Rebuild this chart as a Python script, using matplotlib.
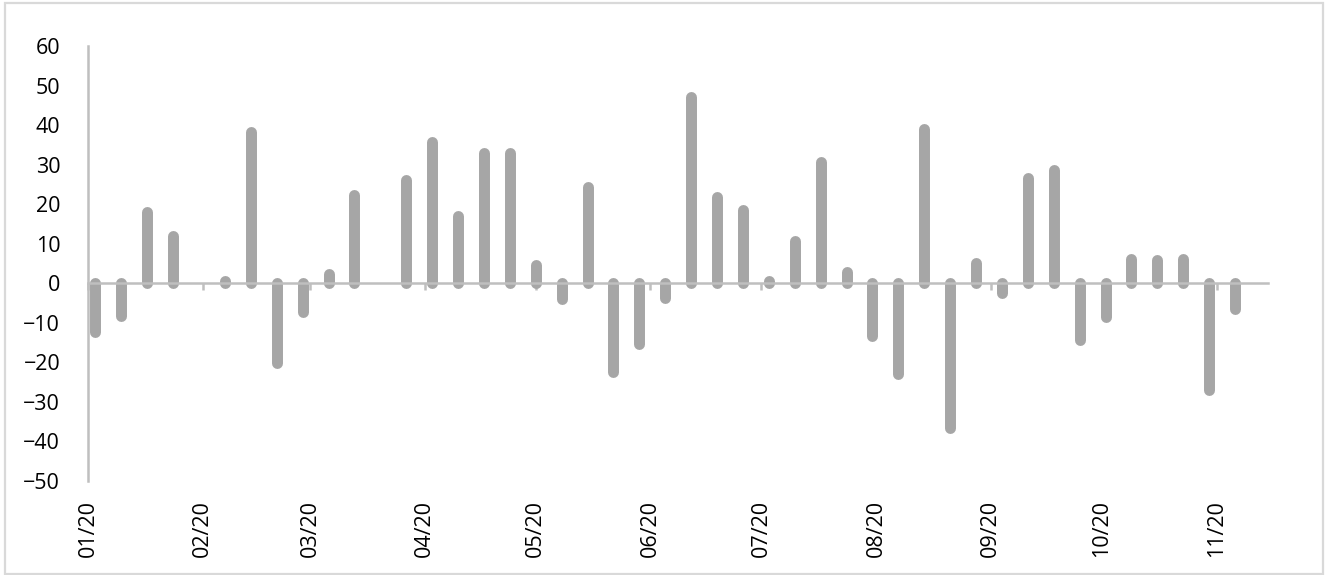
import matplotlib
matplotlib.use('Agg')
import matplotlib.pyplot as plt
import matplotlib.dates as mdates
from matplotlib.patches import Rectangle
import numpy as np
import pandas as pd

# weekly values, Fridays from 2020-01-03
weeks = pd.date_range('2020-01-03', periods=46, freq='7D')
values = [-12.3, -8.2, 18.0, 11.9, 0.1, 0.6, 38.3, -20.3, -7.4, 2.4,
          22.2, 0.1, 26.0, 35.7, 17.0, 33.0, 33.0, 4.5, -4.0, 24.3,
          -22.4, -15.5, -3.7, 47.0, 21.8, 18.4, 0.6, 10.7, 30.7, 2.8,
          -13.4, -23.1, 39.0, -36.7, 5.2, -2.5, 26.5, 28.6, -14.3, -8.7,
          6.2, 5.8, 6.2, -27.0, -6.6, 0.1]
y_ticks = [-50, -40, -30, -20, -10, 0, 10, 20, 30, 40, 50, 60]

plt.rcParams['font.family'] = ['Open Sans', 'DejaVu Sans']

W, H = 1328, 575
fig = plt.figure(figsize=(W / 100, H / 100), dpi=100)
fig.patches.append(Rectangle((5 / W, 1 / H), 1318 / W, 571 / H, transform=fig.transFigure,
                             fill=False, edgecolor='#d9d9d9', linewidth=1.6))

ax = fig.add_axes([88 / W, 94.3 / H, (1267.7 - 88) / W, (529 - 94.3) / H])

gray = '#bfbfbf'
ax.vlines(weeks, 0, values, colors='#a6a6a6', linewidth=7.9, capstyle='round', zorder=2)

ax.set_ylim(-50, 60)
ax.set_yticks(y_ticks)
ax.set_xlim(pd.Timestamp('2020-01-01'), pd.Timestamp('2020-11-14 20:00'))
ax.xaxis.set_major_locator(mdates.MonthLocator())
ax.xaxis.set_major_formatter(mdates.DateFormatter('%m/%y'))

for s in ['top', 'right']:
    ax.spines[s].set_visible(False)
ax.spines['left'].set_color(gray)
ax.spines['left'].set_linewidth(1.8)
ax.spines['bottom'].set_position(('data', 0))
ax.spines['bottom'].set_color(gray)
ax.spines['bottom'].set_linewidth(1.8)
ax.spines['bottom'].set_zorder(3)

ax.tick_params(axis='y', length=0, pad=20, labelsize=15.5, labelcolor='black')
ax.tick_params(axis='x', length=5, width=1.8, color=gray, direction='out',
               pad=151, labelsize=15.5, labelrotation=90)

fig.savefig('out.png', dpi=100)
